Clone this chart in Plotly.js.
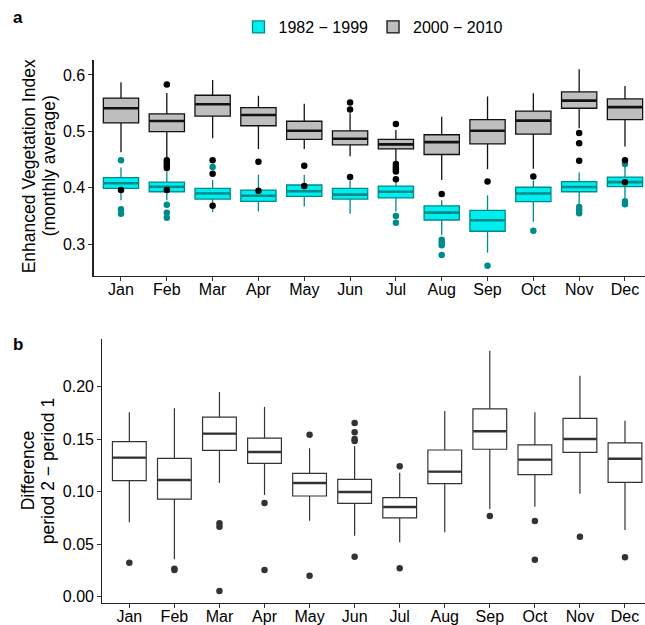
<!DOCTYPE html>
<html>
<head>
<meta charset="utf-8">
<script src="https://cdn.plot.ly/plotly-3.0.1.min.js"></script>
<style>html,body{margin:0;padding:0;background:#fff;}#chart{width:645px;height:625px;}</style>
</head>
<body>
<div id="chart"></div>
<script>
// ---- data ----
const months = ["Jan","Feb","Mar","Apr","May","Jun","Jul","Aug","Sep","Oct","Nov","Dec"];
const series1Name = "1982 \u2212 1999";
const series2Name = "2000 \u2212 2010";

// Panel a, period 1 (1982-1999)
const p1Lower  = [0.378,0.378,0.357,0.358,0.367,0.354,0.358,0.3165,0.285,0.340,0.370,0.381];
const p1Q1     = [0.399,0.393,0.380,0.376,0.385,0.380,0.382,0.343,0.323,0.3755,0.393,0.402];
const p1Median = [0.408,0.402,0.390,0.386,0.394,0.388,0.393,0.356,0.3425,0.390,0.4015,0.410];
const p1Q3     = [0.418,0.410,0.399,0.396,0.405,0.399,0.403,0.368,0.360,0.401,0.411,0.419];
const p1Upper  = [0.436,0.429,0.414,0.423,0.423,0.413,0.414,0.378,0.387,0.413,0.427,0.446];
const p1Out    = [[0.449,0.362,0.354],[0.370,0.356,0.347],[0.437],[],[],[],[0.350,0.338],
                  [0.308,0.303,0.298,0.281],[0.262],[0.324],[0.366,0.361,0.355],[0.442,0.376,0.371]];

// Panel a, period 2 (2000-2010)
const p2Lower  = [0.463,0.453,0.488,0.469,0.469,0.456,0.447,0.414,0.433,0.434,0.5055,0.473];
const p2Q1     = [0.515,0.4996,0.527,0.510,0.486,0.476,0.469,0.459,0.478,0.495,0.541,0.521];
const p2Median = [0.541,0.5185,0.548,0.529,0.501,0.487,0.477,0.481,0.501,0.519,0.5545,0.543];
const p2Q3     = [0.559,0.531,0.564,0.542,0.518,0.501,0.486,0.494,0.521,0.536,0.570,0.5575];
const p2Upper  = [0.587,0.568,0.591,0.563,0.549,0.532,0.5025,0.526,0.562,0.5675,0.610,0.5805];
const p2Out    = [[0.396],[0.583,0.449,0.444,0.439,0.435,0.396],[0.449,0.425,0.368],[0.446,0.395],
                  [0.439,0.403],[0.551,0.539,0.419],[0.513,0.442,0.437,0.433,0.429,0.415],
                  [0.389],[0.411],[0.420],[0.497,0.479,0.448],[0.449,0.410]];

// Panel b, difference period 2 - period 1
const dLower  = [0.0708,0.0356,0.1083,0.0969,0.0724,0.0581,0.0518,0.0613,0.0835,0.0857,0.0981,0.0635];
const dQ1     = [0.1105,0.0930,0.1394,0.1270,0.0959,0.0889,0.0750,0.1076,0.1404,0.1162,0.1375,0.1089];
const dMedian = [0.1324,0.1111,0.1553,0.1378,0.1083,0.0997,0.0854,0.1191,0.1575,0.1305,0.1502,0.1314];
const dQ3     = [0.1477,0.1318,0.1711,0.1511,0.1175,0.1118,0.0943,0.1397,0.1788,0.1445,0.1699,0.1464];
const dUpper  = [0.1756,0.1794,0.1950,0.1807,0.1413,0.1435,0.1181,0.1769,0.2343,0.1756,0.2105,0.1676];
const dOut    = [[0.0324],[0.0267,0.0254],[0.0699,0.0667,0.0054],[0.0892,0.0254],[0.1543,0.020],
                 [0.1654,0.1565,0.1502,0.1483,0.0381],[0.1242,0.027],[],[0.0769],[0.0721,0.0353],[0.0571],[0.0375]];

const yTicksA = [0.3,0.4,0.5,0.6];
const yTicksB = [0.00,0.05,0.10,0.15,0.20];

// ---- build ----
const idx = months.map((m,i)=>i);
const FONT = "Liberation Sans, Arial, Helvetica, sans-serif";
const W = 645, H = 625;

function boxTrace(name, lo, q1, med, q3, up, fill, line, lw, width, xa, ya, show){
  return {type:'box', name:name, x:idx, lowerfence:lo, q1:q1, median:med, q3:q3, upperfence:up,
    fillcolor:fill, line:{color:line, width:lw}, whiskerwidth:0, width:width,
    boxpoints:false, xaxis:xa, yaxis:ya, showlegend:show, hoverinfo:'skip'};
}
function medianTrace(med, color, lw, width, xa, ya){
  const xs=[], ys=[];
  med.forEach((v,i)=>{ xs.push(i-width/2, i+width/2, null); ys.push(v, v, null); });
  return {type:'scatter', mode:'lines', x:xs, y:ys, line:{color:color, width:lw},
    xaxis:xa, yaxis:ya, showlegend:false, hoverinfo:'skip'};
}
function outTrace(out, color, xa, ya){
  const xs=[], ys=[];
  out.forEach((arr,i)=>arr.forEach(v=>{ xs.push(i); ys.push(v); }));
  return {type:'scatter', mode:'markers', x:xs, y:ys, marker:{color:color, size:6.5},
    xaxis:xa, yaxis:ya, showlegend:false, hoverinfo:'skip'};
}

const CYAN='#00EEEE', TEAL='#008B8B', GRAY='#BEBEBE', DARK='#333333';
const wA = 0.77, wB = 0.75;

const traces = [
  boxTrace(series1Name, p1Lower, p1Q1, p1Median, p1Q3, p1Upper, CYAN, TEAL, 1.3, wA, 'x', 'y', true),
  boxTrace(series2Name, p2Lower, p2Q1, p2Median, p2Q3, p2Upper, GRAY, '#111111', 1.3, wA, 'x', 'y', true),
  boxTrace('diff', dLower, dQ1, dMedian, dQ3, dUpper, '#FFFFFF', DARK, 1.2, wB, 'x2', 'y2', false),
  medianTrace(p1Median, TEAL, 2.6, wA-0.02, 'x', 'y'),
  medianTrace(p2Median, '#111111', 2.6, wA-0.02, 'x', 'y'),
  medianTrace(dMedian, DARK, 2.4, wB-0.02, 'x2', 'y2'),
  outTrace(p1Out, TEAL, 'x', 'y'),
  outTrace(p2Out, '#000000', 'x', 'y'),
  outTrace(dOut, DARK, 'x2', 'y2')
];

const axisCommon = {showgrid:false, zeroline:false, showline:true, linecolor:'#222', linewidth:1.1,
  ticks:'outside', ticklen:4, tickwidth:1, tickcolor:'#333', tickfont:{family:FONT, size:16, color:'#000'},
  automargin:false, fixedrange:true};

const layout = {
  width:W, height:H, margin:{l:0,r:0,t:0,b:0}, paper_bgcolor:'#fff', plot_bgcolor:'#fff',
  font:{family:FONT, color:'#000'}, boxmode:'overlay', hovermode:false,
  xaxis:Object.assign({}, axisCommon, {domain:[93.5/W, 1], range:[-0.6, 11.437], anchor:'y',
    tickmode:'array', tickvals:idx, ticktext:months, ticklabelstandoff:-5}),
  yaxis:Object.assign({}, axisCommon, {domain:[1-275.5/H, 1-59.5/H], range:[0.2446, 0.6274], anchor:'x',
    tickmode:'array', tickvals:yTicksA, ticktext:yTicksA.map(v=>v.toFixed(1))}),
  xaxis2:Object.assign({}, axisCommon, {domain:[102.3/W, 1], range:[-0.6, 11.444], anchor:'y2',
    tickmode:'array', tickvals:idx, ticktext:months, ticklabelstandoff:-5}),
  yaxis2:Object.assign({}, axisCommon, {domain:[1-602.7/H, 1-339/H], range:[-0.0057, 0.2454], anchor:'x2',
    tickmode:'array', tickvals:yTicksB, ticktext:yTicksB.map(v=>v.toFixed(2))}),
  legend:{orientation:'h', x:238.5/W, xanchor:'left', y:1-27/H, yanchor:'middle',
    font:{family:FONT, size:16, color:'#000'}, bgcolor:'rgba(0,0,0,0)', traceorder:'normal'},
  annotations:[
    {text:'<b>a</b>', xref:'paper', yref:'paper', x:11/W, y:1-17/H, xanchor:'left', yanchor:'middle', showarrow:false, font:{family:FONT, size:17}},
    {text:'<b>b</b>', xref:'paper', yref:'paper', x:11/W, y:1-344/H, xanchor:'left', yanchor:'middle', showarrow:false, font:{family:FONT, size:17}},
    {text:'Enhanced Vegetation Index', textangle:-90, xref:'paper', yref:'paper', x:29.3/W, y:1-166/H, xanchor:'center', yanchor:'middle', showarrow:false, font:{family:FONT, size:17.5}},
    {text:'(monthly average)', textangle:-90, xref:'paper', yref:'paper', x:49.3/W, y:1-166/H, xanchor:'center', yanchor:'middle', showarrow:false, font:{family:FONT, size:17.5}},
    {text:'Difference', textangle:-90, xref:'paper', yref:'paper', x:28.3/W, y:1-471/H, xanchor:'center', yanchor:'middle', showarrow:false, font:{family:FONT, size:17.5}},
    {text:'period 2 \u2212 period 1', textangle:-90, xref:'paper', yref:'paper', x:48.3/W, y:1-471/H, xanchor:'center', yanchor:'middle', showarrow:false, font:{family:FONT, size:17.5}}
  ]
};

Plotly.newPlot('chart', traces, layout, {staticPlot:true, displayModeBar:false});
</script>
</body>
</html>
